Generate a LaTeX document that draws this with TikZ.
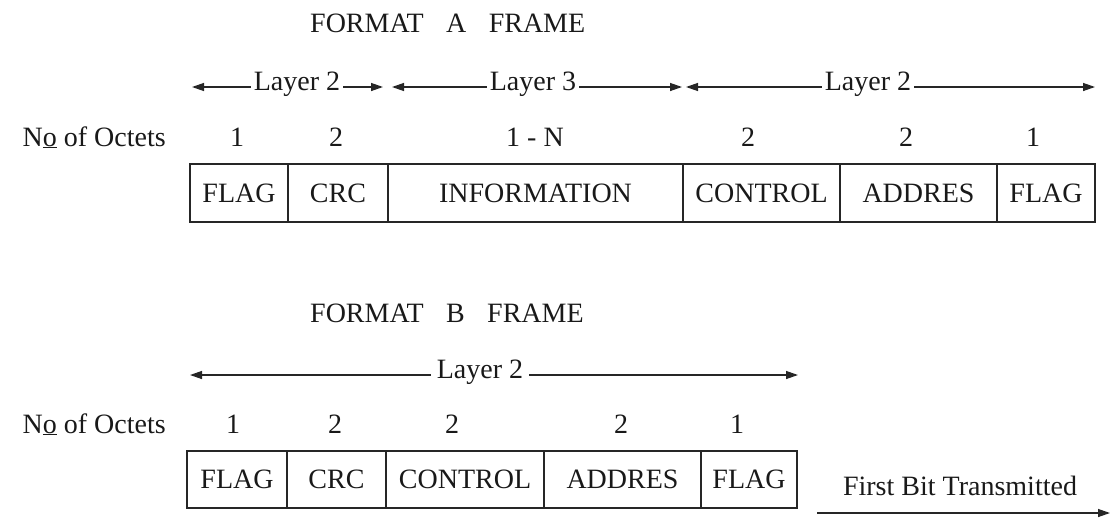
\documentclass[tikz,border=0pt]{standalone}
\usepackage{fontspec}
\setmainfont{Liberation Serif}
\usetikzlibrary{arrows.meta}
\begin{document}
\begin{tikzpicture}[x=1pt,y=-1pt,
  every node/.style={font=\fontsize{28}{30}\selectfont, text=black!90},
  cell/.style={draw=black!85, line width=1.5pt, minimum height=58pt, inner sep=0pt, outer sep=0pt, anchor=north west},
  cellb/.style={cell, minimum height=57pt},
  lbl/.style={fill=white, inner xsep=3pt, inner ysep=1pt, anchor=base},
  num/.style={anchor=base, inner sep=0pt},
  arrboth/.style={line width=1.3pt, draw=black!85, {Triangle[length=12pt,width=8pt]}-{Triangle[length=12pt,width=8pt]}},
  arrone/.style={line width=1.3pt, draw=black!85, -{Triangle[length=12pt,width=8pt]}},
]
\useasboundingbox (0,0) rectangle (1113,517);

% ---------- FORMAT A ----------
\node[anchor=base west, inner sep=0pt] (titleA) at (310,32) {FORMAT\hspace{0.8em}A\hspace{0.8em}FRAME};

\coordinate (a1l) at (192,87); \coordinate (a1r) at (383,87);
\coordinate (a2l) at (392,87); \coordinate (a2r) at (682,87);
\coordinate (a3l) at (686,87); \coordinate (a3r) at (1095,87);
\draw[arrboth] (a1l) -- (a1r);
\draw[arrboth] (a2l) -- (a2r);
\draw[arrboth] (a3l) -- (a3r);
\node[lbl] (la1) at (297,90) {Layer 2};
\node[lbl] (la2) at (533,90) {Layer 3};
\node[lbl] (la3) at (868,90) {Layer 2};

\node[anchor=base east, inner sep=0pt] (octA) at (166,146) {N\underline{o} of Octets};
\node[num] (nA1) at (237,146) {1};
\node[num] (nA2) at (336,146) {2};
\node[num] (nA3) at (535,146) {1 - N};
\node[num] (nA4) at (748,146) {2};
\node[num] (nA5) at (906,146) {2};
\node[num] (nA6) at (1033,146) {1};

\node[cell, minimum width=98pt] (cA1) at (190,164) {FLAG};
\node[cell, minimum width=100pt] (cA2) at (cA1.north east) {CRC};
\node[cell, minimum width=295pt] (cA3) at (cA2.north east) {INFORMATION};
\node[cell, minimum width=157pt] (cA4) at (cA3.north east) {CONTROL};
\node[cell, minimum width=157pt] (cA5) at (cA4.north east) {ADDRES};
\node[cell, minimum width=98pt] (cA6) at (cA5.north east) {FLAG};

% ---------- FORMAT B ----------
\node[anchor=base west, inner sep=0pt] (titleB) at (310,322) {FORMAT\hspace{0.8em}B\hspace{0.8em}FRAME};

\coordinate (b1l) at (190,375); \coordinate (b1r) at (798,375);
\draw[arrboth] (b1l) -- (b1r);
\node[lbl, inner xsep=6pt] (lb1) at (480,378) {Layer 2};

\node[anchor=base east, inner sep=0pt] (octB) at (166,433) {N\underline{o} of Octets};
\node[num] (nB1) at (233,433) {1};
\node[num] (nB2) at (335,433) {2};
\node[num] (nB3) at (452,433) {2};
\node[num] (nB4) at (621,433) {2};
\node[num] (nB5) at (737,433) {1};

\node[cellb, minimum width=100pt] (cB1) at (187,451) {FLAG};
\node[cellb, minimum width=99pt] (cB2) at (cB1.north east) {CRC};
\node[cellb, minimum width=158pt] (cB3) at (cB2.north east) {CONTROL};
\node[cellb, minimum width=157pt] (cB4) at (cB3.north east) {ADDRES};
\node[cellb, minimum width=96pt] (cB5) at (cB4.north east) {FLAG};

\node[anchor=base, inner sep=0pt] (fbt) at (960,495) {First Bit Transmitted};
\coordinate (fbs) at (817,513); \coordinate (fbe) at (1110,513);
\draw[arrone] (fbs) -- (fbe);
\end{tikzpicture}
\end{document}
